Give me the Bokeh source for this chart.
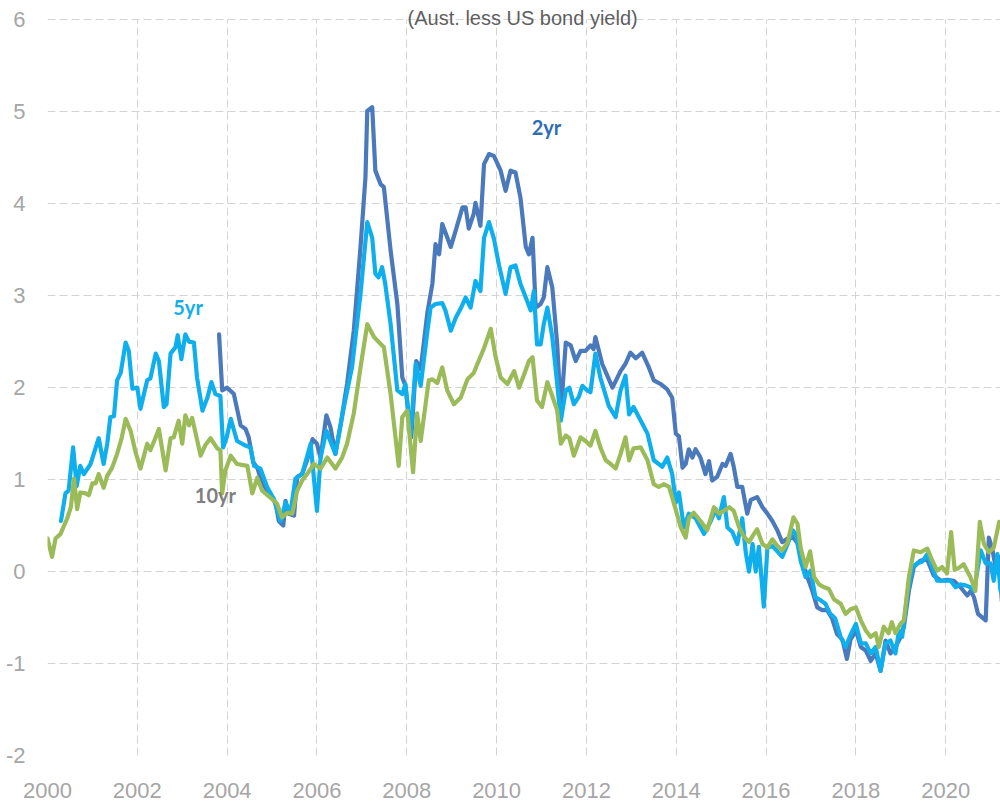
from bokeh.plotting import figure
from bokeh.models import Range1d, FixedTicker, Label, PrintfTickFormatter
from bokeh.core.properties import value
from bokeh.embed import file_html
from bokeh.resources import INLINE

# ---------------- data ----------------
x_ticks = [2000, 2002, 2004, 2006, 2008, 2010, 2012, 2014, 2016, 2018, 2020]
y_ticks = [-2, -1, 0, 1, 2, 3, 4, 5, 6]

tenyr_t = [2000.00, 2000.10, 2000.18, 2000.29, 2000.44, 2000.52, 2000.59, 2000.66, 2000.73, 2000.85,
           2000.92, 2001.00, 2001.07, 2001.14, 2001.25, 2001.33, 2001.44, 2001.55, 2001.65, 2001.74,
           2001.85, 2001.96, 2002.07, 2002.22, 2002.29, 2002.40, 2002.48, 2002.63, 2002.74, 2002.81,
           2002.92, 2003.00, 2003.07, 2003.15, 2003.22, 2003.30, 2003.41, 2003.52, 2003.63, 2003.78,
           2003.85, 2003.89, 2003.96, 2004.08, 2004.22, 2004.45, 2004.56, 2004.67, 2004.78, 2004.97,
           2005.11, 2005.22, 2005.34, 2005.45, 2005.56, 2005.67, 2005.78, 2005.93, 2006.08, 2006.23,
           2006.41, 2006.56, 2006.67, 2006.82, 2006.97, 2007.12, 2007.27, 2007.37, 2007.49, 2007.64,
           2007.82, 2007.90, 2008.01, 2008.14, 2008.23, 2008.31, 2008.49, 2008.57, 2008.68, 2008.79,
           2008.90, 2009.05, 2009.20, 2009.35, 2009.49, 2009.60, 2009.72, 2009.87, 2009.98, 2010.09,
           2010.24, 2010.39, 2010.50, 2010.61, 2010.72, 2010.80, 2010.90, 2011.01, 2011.13, 2011.24,
           2011.35, 2011.43, 2011.54, 2011.62, 2011.72, 2011.87, 2011.98, 2012.09, 2012.20, 2012.31,
           2012.43, 2012.54, 2012.65, 2012.76, 2012.87, 2012.95, 2013.05, 2013.21, 2013.36, 2013.50,
           2013.61, 2013.72, 2013.84, 2013.95, 2014.10, 2014.21, 2014.28, 2014.39, 2014.54, 2014.69,
           2014.84, 2014.95, 2015.06, 2015.18, 2015.28, 2015.40, 2015.51, 2015.62, 2015.73, 2015.80,
           2015.92, 2016.03, 2016.14, 2016.25, 2016.36, 2016.48, 2016.61, 2016.70, 2016.77, 2016.88,
           2016.98, 2017.07, 2017.18, 2017.29, 2017.40, 2017.51, 2017.66, 2017.77, 2017.88, 2018.00,
           2018.11, 2018.22, 2018.33, 2018.44, 2018.51, 2018.62, 2018.73, 2018.80, 2018.88, 2018.99,
           2019.07, 2019.18, 2019.29, 2019.44, 2019.59, 2019.70, 2019.81, 2019.92, 2020.03, 2020.12,
           2020.20, 2020.29, 2020.40, 2020.55, 2020.66, 2020.76, 2020.85, 2020.96, 2021.07, 2021.19,
           2021.25]
tenyr_v = [0.36, 0.16, 0.36, 0.41, 0.58, 0.70, 1.01, 0.68, 0.86, 0.85,
           0.83, 0.96, 0.96, 1.06, 0.91, 1.04, 1.13, 1.28, 1.45, 1.66,
           1.53, 1.30, 1.12, 1.39, 1.32, 1.45, 1.55, 1.10, 1.45, 1.46,
           1.64, 1.39, 1.70, 1.59, 1.67, 1.50, 1.26, 1.38, 1.45, 1.34,
           1.32, 0.85, 1.10, 1.26, 1.17, 1.15, 0.85, 1.02, 0.88, 0.80,
           0.74, 0.59, 0.64, 0.63, 0.88, 0.99, 1.06, 1.17, 1.12, 1.24,
           1.12, 1.24, 1.39, 1.72, 2.22, 2.69, 2.55, 2.50, 2.44, 1.93,
           1.15, 1.68, 1.75, 1.08, 1.72, 1.42, 2.08, 2.09, 2.05, 2.22,
           1.97, 1.82, 1.89, 2.09, 2.16, 2.29, 2.43, 2.64, 2.33, 2.11,
           2.04, 2.18, 2.00, 2.14, 2.29, 2.33, 1.86, 1.79, 2.06, 1.91,
           1.75, 1.39, 1.48, 1.45, 1.26, 1.46, 1.42, 1.37, 1.53, 1.35,
           1.21, 1.17, 1.12, 1.28, 1.46, 1.21, 1.34, 1.35, 1.21, 0.95,
           0.92, 0.95, 0.92, 0.74, 0.48, 0.37, 0.58, 0.64, 0.55, 0.45,
           0.70, 0.63, 0.66, 0.70, 0.66, 0.48, 0.38, 0.32, 0.41, 0.46,
           0.30, 0.26, 0.35, 0.28, 0.23, 0.32, 0.59, 0.52, 0.26, 0.05,
           0.22, -0.06, -0.14, -0.17, -0.19, -0.30, -0.35, -0.46, -0.41, -0.39,
           -0.53, -0.64, -0.71, -0.67, -0.82, -0.60, -0.67, -0.55, -0.67, -0.57,
           -0.53, -0.06, 0.23, 0.21, 0.25, 0.12, 0.01, 0.05, -0.02, 0.43,
           0.02, 0.04, 0.08, -0.06, -0.21, 0.54, 0.30, 0.21, 0.26, 0.54,
           0.50]

fiveyr_t = [2000.30, 2000.40, 2000.47, 2000.57, 2000.65, 2000.73, 2000.81, 2000.96, 2001.14, 2001.25,
            2001.33, 2001.40, 2001.48, 2001.55, 2001.63, 2001.74, 2001.81, 2001.89, 2002.00, 2002.07,
            2002.22, 2002.29, 2002.41, 2002.48, 2002.59, 2002.65, 2002.74, 2002.85, 2002.90, 2002.98,
            2003.07, 2003.15, 2003.26, 2003.33, 2003.45, 2003.56, 2003.65, 2003.74, 2003.85, 2003.91,
            2003.99, 2004.08, 2004.22, 2004.41, 2004.52, 2004.60, 2004.74, 2004.89, 2005.04, 2005.19,
            2005.30, 2005.41, 2005.52, 2005.67, 2005.86, 2006.00, 2006.08, 2006.21, 2006.41, 2006.60,
            2006.78, 2006.97, 2007.12, 2007.23, 2007.30, 2007.37, 2007.45, 2007.52, 2007.64, 2007.79,
            2007.90, 2007.97, 2008.08, 2008.20, 2008.31, 2008.46, 2008.53, 2008.64, 2008.79, 2008.86,
            2008.98, 2009.09, 2009.20, 2009.31, 2009.42, 2009.53, 2009.64, 2009.72, 2009.83, 2009.94,
            2010.05, 2010.20, 2010.31, 2010.42, 2010.53, 2010.65, 2010.76, 2010.83, 2010.90, 2010.98,
            2011.05, 2011.13, 2011.24, 2011.35, 2011.43, 2011.54, 2011.62, 2011.72, 2011.83, 2011.91,
            2012.02, 2012.09, 2012.20, 2012.31, 2012.50, 2012.65, 2012.76, 2012.87, 2012.95, 2013.05,
            2013.21, 2013.36, 2013.50, 2013.61, 2013.69, 2013.80, 2013.91, 2013.99, 2014.06, 2014.17,
            2014.28, 2014.43, 2014.62, 2014.77, 2014.88, 2014.95, 2015.06, 2015.14, 2015.25, 2015.36,
            2015.47, 2015.55, 2015.62, 2015.70, 2015.77, 2015.84, 2015.95, 2016.03, 2016.14, 2016.25,
            2016.36, 2016.48, 2016.59, 2016.66, 2016.77, 2016.88, 2016.99, 2017.10, 2017.21, 2017.32,
            2017.43, 2017.54, 2017.66, 2017.77, 2017.88, 2018.00, 2018.11, 2018.22, 2018.33, 2018.44,
            2018.55, 2018.66, 2018.77, 2018.88, 2018.96, 2019.03, 2019.15, 2019.26, 2019.37, 2019.48,
            2019.59, 2019.70, 2019.81, 2019.96, 2020.11, 2020.22, 2020.33, 2020.44, 2020.55, 2020.63,
            2020.78, 2020.89, 2021.00, 2021.07, 2021.15, 2021.22]
fiveyr_v = [0.55, 0.85, 0.88, 1.35, 0.93, 1.15, 1.06, 1.17, 1.45, 1.17,
            1.39, 1.68, 1.69, 2.08, 2.16, 2.49, 2.40, 1.99, 2.00, 1.77,
            2.08, 2.10, 2.37, 2.29, 1.79, 1.82, 2.37, 2.44, 2.57, 2.31,
            2.58, 2.50, 2.49, 2.11, 1.75, 1.89, 2.06, 1.93, 1.91, 1.35,
            1.46, 1.66, 1.42, 1.37, 1.35, 1.15, 1.12, 0.92, 0.79, 0.55,
            0.75, 0.64, 1.01, 1.06, 1.39, 0.66, 1.24, 1.53, 1.28, 1.79,
            2.22, 3.02, 3.80, 3.63, 3.24, 3.20, 3.31, 3.13, 2.69, 1.97,
            1.93, 2.04, 1.46, 2.26, 2.02, 2.62, 2.87, 2.91, 2.92, 2.84,
            2.62, 2.76, 2.86, 2.98, 2.87, 3.16, 3.05, 3.63, 3.80, 3.62,
            3.34, 3.02, 3.31, 3.33, 3.13, 2.98, 2.84, 3.05, 2.47, 2.47,
            2.69, 2.87, 2.55, 2.04, 1.64, 1.97, 2.00, 1.82, 1.90, 2.02,
            1.97, 1.95, 2.37, 2.11, 1.80, 1.68, 1.97, 2.13, 1.71, 1.79,
            1.64, 1.50, 1.21, 1.17, 1.14, 1.24, 1.06, 0.75, 0.86, 0.48,
            0.63, 0.58, 0.41, 0.55, 0.68, 0.58, 0.81, 0.48, 0.43, 0.30,
            0.58, 0.20, 0.00, 0.30, 0.00, 0.27, -0.38, 0.26, 0.28, 0.22,
            0.16, 0.30, 0.45, 0.41, 0.12, -0.06, 0.01, -0.28, -0.31, -0.35,
            -0.46, -0.51, -0.71, -0.82, -0.69, -0.57, -0.78, -0.78, -0.89, -0.82,
            -1.08, -0.78, -0.75, -0.89, -0.64, -0.71, -0.24, 0.05, 0.09, 0.11,
            0.19, 0.05, -0.10, -0.10, -0.10, -0.17, -0.14, -0.15, -0.17, -0.21,
            0.23, 0.09, 0.09, -0.10, 0.19, -0.21]

twoyr_t = [2003.82, 2003.89, 2004.00, 2004.15, 2004.30, 2004.41, 2004.48, 2004.58, 2004.67, 2004.78,
           2004.97, 2005.08, 2005.15, 2005.25, 2005.30, 2005.37, 2005.49, 2005.56, 2005.67, 2005.78,
           2005.90, 2006.00, 2006.08, 2006.21, 2006.30, 2006.41, 2006.53, 2006.67, 2006.82, 2006.97,
           2007.08, 2007.12, 2007.23, 2007.30, 2007.42, 2007.49, 2007.64, 2007.79, 2007.90, 2007.97,
           2008.10, 2008.21, 2008.31, 2008.46, 2008.57, 2008.64, 2008.72, 2008.79, 2008.98, 2009.09,
           2009.24, 2009.31, 2009.38, 2009.49, 2009.53, 2009.64, 2009.72, 2009.83, 2009.94, 2010.09,
           2010.20, 2010.31, 2010.42, 2010.53, 2010.65, 2010.72, 2010.80, 2010.87, 2010.98, 2011.05,
           2011.13, 2011.24, 2011.35, 2011.43, 2011.54, 2011.65, 2011.76, 2011.87, 2011.98, 2012.09,
           2012.16, 2012.20, 2012.35, 2012.58, 2012.76, 2012.87, 2012.98, 2013.10, 2013.24, 2013.39,
           2013.50, 2013.65, 2013.80, 2013.91, 2013.99, 2014.06, 2014.14, 2014.21, 2014.28, 2014.36,
           2014.43, 2014.54, 2014.65, 2014.73, 2014.80, 2014.91, 2015.03, 2015.10, 2015.21, 2015.28,
           2015.36, 2015.47, 2015.58, 2015.66, 2015.80, 2015.92, 2016.03, 2016.14, 2016.25, 2016.36,
           2016.48, 2016.59, 2016.70, 2016.81, 2016.92, 2017.03, 2017.14, 2017.25, 2017.36, 2017.47,
           2017.58, 2017.70, 2017.80, 2017.88, 2018.00, 2018.11, 2018.22, 2018.33, 2018.44, 2018.55,
           2018.66, 2018.77, 2018.88, 2019.00, 2019.07, 2019.18, 2019.29, 2019.44, 2019.59, 2019.73,
           2019.89, 2020.03, 2020.18, 2020.33, 2020.48, 2020.56, 2020.63, 2020.72, 2020.89, 2020.96,
           2021.04, 2021.11, 2021.19, 2021.25]
twoyr_v = [2.58, 1.97, 2.00, 1.93, 1.59, 1.55, 1.46, 1.19, 1.13, 0.96,
           0.83, 0.74, 0.55, 0.50, 0.77, 0.63, 0.61, 1.03, 1.06, 1.21,
           1.44, 1.39, 1.24, 1.70, 1.57, 1.28, 1.61, 2.04, 2.62, 3.53,
           4.29, 5.01, 5.05, 4.36, 4.21, 4.18, 3.49, 2.91, 2.11, 2.02,
           1.46, 2.29, 2.20, 2.82, 3.13, 3.56, 3.45, 3.78, 3.53, 3.71,
           3.96, 3.96, 3.73, 3.89, 4.01, 3.76, 4.43, 4.54, 4.52, 4.36,
           4.14, 4.36, 4.34, 4.07, 3.53, 3.45, 3.63, 2.87, 2.91, 2.98,
           3.31, 3.09, 2.47, 1.72, 2.49, 2.46, 2.29, 2.40, 2.40, 2.46,
           2.42, 2.55, 2.26, 2.00, 2.18, 2.26, 2.38, 2.32, 2.38, 2.22,
           2.08, 2.04, 1.98, 1.89, 1.50, 1.47, 1.13, 1.17, 1.33, 1.24,
           1.33, 1.24, 1.06, 1.20, 0.99, 1.03, 1.17, 1.15, 1.28, 1.14,
           0.92, 0.92, 0.63, 0.78, 0.81, 0.70, 0.63, 0.55, 0.45, 0.32,
           0.36, 0.38, 0.31, 0.12, -0.06, -0.21, -0.39, -0.42, -0.42, -0.51,
           -0.68, -0.74, -0.95, -0.74, -0.64, -0.82, -0.86, -0.97, -0.89, -1.08,
           -0.75, -0.89, -0.82, -0.71, -0.60, -0.21, 0.05, 0.12, 0.13, -0.04,
           -0.10, -0.09, -0.10, -0.17, -0.26, -0.21, -0.28, -0.46, -0.53, 0.37,
           0.24, 0.05, 0.16, -0.32]

subtitle = "(Aust. less US bond yield)"
series_names = ["2yr", "5yr", "10yr"]

# ---------------- figure ----------------
# the frame reaches the top of the page so that the subtitle (which sits on the
# top gridline) is not clipped; value 6 still lies 19px below the top edge
p = figure(width=1000, height=803,
           x_range=Range1d(2000, 2021.22), y_range=Range1d(-2, 6.21),
           output_backend="svg", toolbar_location=None,
           min_border_left=47, min_border_right=0, min_border_top=0, min_border_bottom=48)
p.outline_line_color = None
p.background_fill_color = "white"
p.border_fill_color = "white"

for ax in (p.xaxis[0], p.yaxis[0]):
    ax.axis_line_color = None
    ax.major_tick_line_color = None
    ax.minor_tick_line_color = None
    ax.major_tick_out = 0
    ax.major_tick_in = 0
    ax.minor_tick_out = 0
    ax.major_label_text_font = "Liberation Sans"
    ax.major_label_text_font_size = "22px"
    ax.major_label_text_color = "#A6A6A6"

p.xaxis.ticker = FixedTicker(ticks=x_ticks)
p.yaxis.ticker = FixedTicker(ticks=y_ticks)
p.xaxis.formatter = PrintfTickFormatter(format="%d")
p.yaxis.formatter = PrintfTickFormatter(format="%d")
p.xaxis.major_label_standoff = 27
p.yaxis.major_label_standoff = 22

for g in (p.xgrid[0], p.ygrid[0]):
    g.grid_line_color = "#D4D4D4"
    g.grid_line_dash = "8 4"
    g.grid_line_width = 1
# vertical gridlines span only the value range -2..6
if "cross_bounds" in p.xgrid[0].properties():
    p.xgrid[0].cross_bounds = (-2, 6)

c2, c5, c10 = "#4A79BC", "#0FAFEE", "#9BBB59"
p.line(twoyr_t, twoyr_v, line_width=4.2, line_color=c2, line_join="round", line_cap="round")
p.line(fiveyr_t, fiveyr_v, line_width=4.2, line_color=c5, line_join="round", line_cap="round")
p.line(tenyr_t, tenyr_v, line_width=4.2, line_color=c10, line_join="round", line_cap="round")

# series labels
p.text(x=[2011.11], y=[4.83], text=[series_names[0]], text_font=value("Lato"),
       text_font_style="bold", text_font_size="20px", text_color="#2F6DB5",
       text_align="center", text_baseline="middle")
p.text(x=[2003.13], y=[2.88], text=[series_names[1]], text_font=value("Lato"),
       text_font_style="bold", text_font_size="20px", text_color="#12AEEA",
       text_align="center", text_baseline="middle")
p.text(x=[2003.74], y=[0.83], text=[series_names[2]], text_font=value("Lato"),
       text_font_style="bold", text_font_size="20px", text_color="#7F7F7F",
       text_align="center", text_baseline="middle")

p.add_layout(Label(x=2010.58, y=6.02, text=subtitle, text_align="center",
                   text_baseline="middle", text_font="Liberation Sans",
                   text_font_size="20px", text_color="#5F5F5F"))

open("out.html", "w").write(file_html(p, INLINE))
